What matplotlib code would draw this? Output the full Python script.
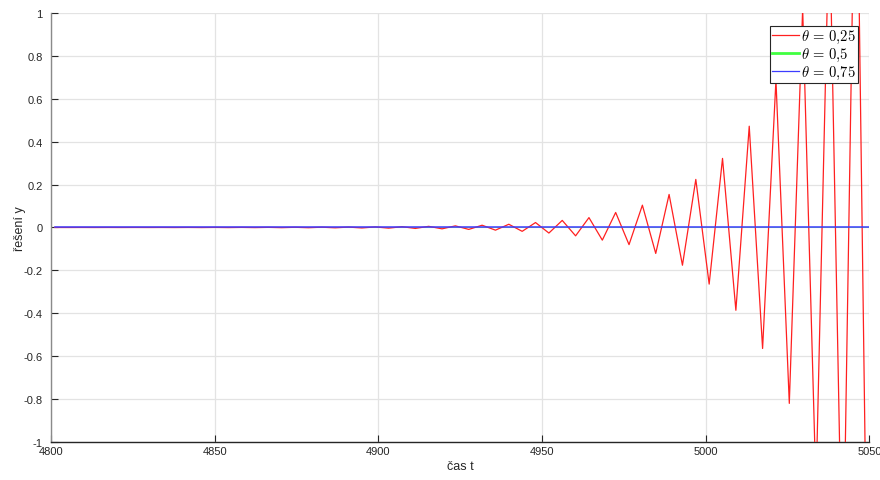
import numpy as np
import matplotlib
matplotlib.use("Agg")
import matplotlib.pyplot as plt

plt.rcParams['font.family'] = ['Liberation Sans', 'DejaVu Sans']
plt.rcParams['mathtext.fontset'] = 'cm'

# time steps near the end of the run
t = [4801.12, 4805.20, 4809.28, 4813.36, 4817.44, 4821.52, 4825.60, 4829.68,
     4833.76, 4837.84, 4841.92, 4846.00, 4850.08, 4854.16, 4858.24, 4862.32,
     4866.40, 4870.48, 4874.56, 4878.64, 4882.72, 4886.80, 4890.88, 4894.96,
     4899.04, 4903.12, 4907.20, 4911.28, 4915.36, 4919.44, 4923.52, 4927.60,
     4931.68, 4935.76, 4939.84, 4943.92, 4948.00, 4952.08, 4956.16, 4960.24,
     4964.32, 4968.40, 4972.48, 4976.56, 4980.64, 4984.72, 4988.80, 4992.88,
     4996.96, 5001.04, 5005.12, 5009.20, 5013.28, 5017.36, 5021.44, 5025.52,
     5029.60, 5033.68, 5037.76, 5041.84, 5045.92, 5050.00]

# theta = 0.25 (unstable, oscillating)
y_025 = [0.0, -0.0001, 0.0001, -0.0001, 0.0001, -0.0001, 0.0001, -0.0001,
         0.0001, -0.0002, 0.0002, -0.0003, 0.0003, -0.0004, 0.0004, -0.0005,
         0.0006, -0.0008, 0.0009, -0.0011, 0.0013, -0.0015, 0.0018, -0.0022,
         0.0026, -0.0031, 0.0037, -0.0044, 0.0053, -0.0063, 0.0075, -0.009,
         0.0105, -0.0125, 0.015, -0.018, 0.023, -0.026, 0.033, -0.039,
         0.046, -0.059, 0.070, -0.080, 0.104, -0.121, 0.154, -0.176,
         0.224, -0.264, 0.322, -0.386, 0.472, -0.564, 0.687, -0.82,
         1.02, -1.22, 1.47, -1.77, 2.12, -2.55]

# theta = 0.5 and 0.75 stay at zero
y_05 = [0.0] * len(t)
y_075 = [0.0] * len(t)

labels = [r'$\theta\,=\,0{,}25$', r'$\theta\,=\,0{,}5$', r'$\theta\,=\,0{,}75$']

fig = plt.figure(figsize=(8.8, 4.81), dpi=100)
ax = fig.add_axes([0.058, 0.079, 0.930, 0.892])

ax.plot(t, y_025, color='#ff2020', lw=0.9, label=labels[0], zorder=3)
ax.plot(t, y_05, color='#40ff40', lw=0.4, label=labels[1], zorder=2)
ax.plot(t, y_075, color='#3c3cff', lw=1.1, label=labels[2], zorder=4)

ax.set_xlim(4800, 5050)
ax.set_ylim(-1, 1)
ax.set_xticks(np.arange(4800, 5051, 50))
ax.set_yticks(np.arange(-1, 1.01, 0.2))
ax.set_yticklabels(['-1', '-0.8', '-0.6', '-0.4', '-0.2', '0',
                    '0.2', '0.4', '0.6', '0.8', '1'])

ax.grid(True, color='#e3e3e3', lw=0.9)
ax.set_axisbelow(True)
for s in ['top', 'right']:
    ax.spines[s].set_visible(False)
ax.spines['left'].set_color('#8a8a8a')
ax.spines['bottom'].set_color('#262626')
ax.spines['left'].set_linewidth(1.0)
ax.spines['bottom'].set_linewidth(1.0)
ax.tick_params(direction='in', length=5, width=0.8, colors='#262626',
               labelsize=8, pad=3)
ax.tick_params(axis='y', pad=6)

ax.set_xlabel('čas t', fontsize=9, color='#262626', labelpad=3)
ax.set_ylabel('řešení y', fontsize=9, color='#262626', labelpad=-2)

leg = ax.legend(loc='upper right', bbox_to_anchor=(0.9895, 0.977), fontsize=10.5,
                fancybox=False, framealpha=1, edgecolor='#262626',
                handlelength=1.85, handletextpad=0.15, borderpad=0.15,
                labelspacing=0.05, borderaxespad=0.2)
leg.get_frame().set_linewidth(0.8)
leg.get_lines()[0].set_linewidth(0.9)
leg.get_lines()[1].set_linewidth(2.0)
leg.get_lines()[2].set_linewidth(0.9)

fig.savefig('out.png', dpi=100)
